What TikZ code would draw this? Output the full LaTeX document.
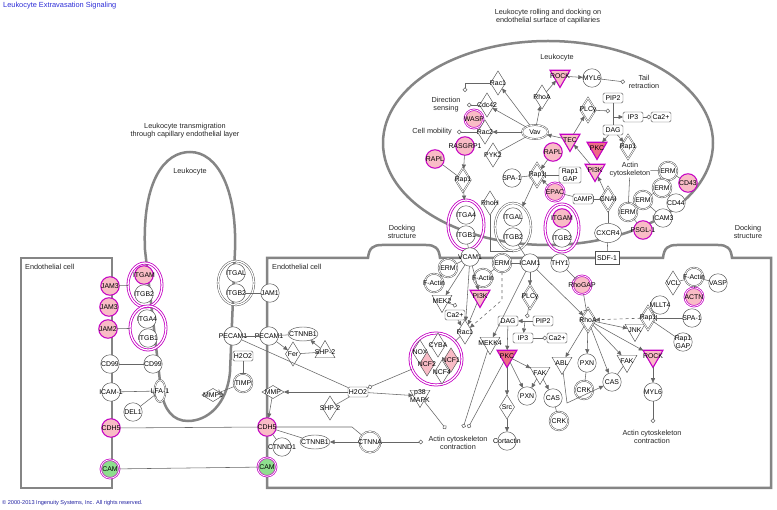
\documentclass[tikz,border=0pt]{standalone}
\usepackage{fontspec}
\setmainfont{Liberation Sans}
\usetikzlibrary{shapes.geometric,arrows.meta}
\definecolor{ndc}{HTML}{505050}
\definecolor{lnc}{HTML}{666666}
\definecolor{memc}{HTML}{858585}
\definecolor{mag}{HTML}{C400C4}
\definecolor{pinkf}{HTML}{F9BCC6}
\definecolor{pkdark}{HTML}{EE6A86}
\definecolor{greenf}{HTML}{8EDF8E}
\definecolor{ttl}{HTML}{2E2ED8}
\newcommand\nf{\fontsize{6.9}{7.8}\selectfont}
\newcommand\tf{\fontsize{7.3}{8.2}\selectfont}
\tikzset{
 every label/.style={font=\nf, inner sep=0pt, outer sep=0pt, text=black, align=center},
 base/.style={inner sep=0pt, outer sep=0pt, draw=ndc, line width=0.45pt, fill=white},
 gc/.style={base, circle, minimum size=18.5pt},
 dblc/.style={gc, double=white, double distance=0.8pt},
 gp/.style={gc, fill=pinkf, draw=mag, line width=1pt},
 gpd/.style={gc, fill=pinkf, draw=mag, line width=0.7pt, double=white, double distance=0.8pt},
 gg/.style={gc, fill=greenf, draw=mag, line width=0.7pt, double=white, double distance=0.8pt},
 kin/.style={base, regular polygon, regular polygon sides=3, shape border rotate=180, minimum size=23pt},
 kinp/.style={kin, fill=pinkf, draw=mag, line width=1.1pt},
 kind/.style={kin, fill=pkdark, draw=mag, line width=1.1pt},
 ukin/.style={base, regular polygon, regular polygon sides=3, minimum size=23pt},
 dia/.style={base, diamond, minimum width=15pt, minimum height=24pt},
 dbld/.style={dia, double=white, double distance=0.8pt},
 hdia/.style={base, diamond, minimum width=22pt, minimum height=13pt},
 bx/.style={base, rectangle, rounded corners=1.5pt, minimum width=20pt, minimum height=10pt},
 ell/.style={base, ellipse, minimum width=30pt, minimum height=14pt},
 grpm/.style={draw=mag, line width=0.8pt, double=white, double distance=1.3pt, inner sep=0pt, outer sep=0pt},
 grpg/.style={draw=ndc, line width=0.45pt, double=white, double distance=1.3pt, inner sep=0pt, outer sep=0pt},
 ln/.style={draw=lnc, line width=0.55pt},
 ar/.style={ln, -{Triangle[length=4.5pt,width=4pt]}},
 inh/.style={ln, -{Bar[width=6pt]}},
 ld/.style={ln, -{Circle[open,length=4.5pt,width=4.5pt]}},
 mem/.style={draw=memc, line width=2.5pt},
 txt/.style={font=\tf, inner sep=0pt, align=center, text=black!85},
}
\begin{document}
\begin{tikzpicture}[x=1pt,y=-1pt]
\useasboundingbox (0,0) rectangle (777,510);
\fill[white] (0,0) rectangle (777,510);
% ---------- membranes ----------
\draw[mem] (21,258) rectangle (112,488);
\draw[mem] (161,390) -- (145,250) .. controls (142,180) and (165,152) .. (190,152) .. controls (218,152) and (237,190) .. (235,250) -- (230,372) .. controls (227,405) and (207,421) .. (188,421) .. controls (173,421) and (164,410) .. (161,390) -- cycle;
\draw[mem] (267,258) -- (368,258) .. controls (369,248) and (373,245) .. (382,245) -- (426,245) .. controls (435,245) and (439,248) .. (440,258) -- (663,258) .. controls (664,248) and (668,245) .. (677,245) -- (718,245) .. controls (727,245) and (731,248) .. (732,258) -- (771,258) -- (771,488) -- (267,488) -- cycle;
\draw[mem] (548,143) ellipse [x radius=165pt, y radius=102pt];
% ---------- groups ----------
\node[grpm, ellipse, minimum width=34pt, minimum height=44pt] (gL1) at (145,285) {};
\node[grpm, ellipse, minimum width=36pt, minimum height=44pt] (gL2) at (148,328) {};
\node[grpg, ellipse, minimum width=36pt, minimum height=44pt] (gM) at (236,283) {};
\node[grpm, ellipse, minimum width=36pt, minimum height=50pt] (gT1) at (466,225) {};
\node[grpg, ellipse, minimum width=36pt, minimum height=48pt] (gT2) at (513,227) {};
\node[grpm, ellipse, minimum width=34pt, minimum height=48pt] (gT3) at (562,228) {};
\node[grpm, circle, minimum size=52pt] (noxc) at (436,359) {};
% ---------- left endothelial cell ----------
\node[gp, label=center:JAM3] (jam3a) at (110,286) {};
\node[gp, label=center:JAM3] (jam3b) at (109,307) {};
\node[gp, label=center:JAM2] (jam2) at (108,329) {};
\node[gc, label=center:CD99] (cd99a) at (110,364) {};
\node[gc, label=center:ICAM-1] (icama) at (111,392) {};
\node[gp, label=center:CDH5] (cdh5a) at (111,428) {};
\node[gg, label=center:CAM] (cama) at (110,469) {};
% ---------- left leukocyte ----------
\node[gp, label=center:ITGAM] (itgamL) at (144,275) {};
\node[gc, label=center:ITGB2] (itgb2L) at (144,294) {};
\node[gc, label=center:ITGA4] (itga4L) at (147,319) {};
\node[gc, label=center:ITGB1] (itgb1L) at (148,338) {};
\node[gc, label=center:CD99] (cd99b) at (153,364) {};
\node[base, ellipse, double=white, double distance=0.8pt, minimum width=11pt, minimum height=22pt, label=center:LFA-1] (lfa1) at (160,391) {};
\node[gc, label=center:DEL1] (del1) at (133,412) {};
\node[hdia, label=center:MMP9] (mmp9) at (213,395) {};
\node[dblc, label=center:TIMP] (timp) at (243,383) {};
\node[gc, label=center:ITGAL] (itgalM) at (236,273) {};
\node[gc, label=center:ITGB2] (itgb2M) at (236,293) {};
\node[gc, label=center:PECAM1] (pecL) at (233,336) {};
\node[bx, label=center:H2O2] (h2o2L) at (243,356) {};
% ---------- right endothelial cell ----------
\node[gc, label=center:JAM1] (jam1) at (270,293) {};
\node[gc, label=center:PECAM1] (pecR) at (269,336) {};
\node[ell, label=center:CTNNB1] (ctnnb1a) at (303,334) {};
\node[dia, label=center:Fer] (fer) at (293,354) {};
\node[ukin, label=center:SHP-2] (shp2a) at (325,352) {};
\node[gp, label=center:CDH5] (cdh5b) at (267,427) {};
\node[gg, label=center:CAM] (camb) at (267,467) {};
\node[hdia, label=center:MMP] (mmp) at (273,392) {};
\node[bx, label=center:H2O2] (h2o2M) at (358,392) {};
\node[dia, label=center:SHP-2] (shp2b) at (330,408) {};
\node[kin, label=center:{p38\\MAPK}] (p38) at (420,396) {};
\node[gc, label=center:CTNND1] (ctnnd1) at (282,447) {};
\node[ell, label=center:CTNNB1] (ctnnb1b) at (315,442) {};
\node[dblc, minimum size=21pt, label=center:CTNNA] (ctnna) at (370,442) {};
\node[dia, label=center:NOX] (nox) at (420,352) {};
\node[dia, label=center:CYBA] (cyba) at (438,345) {};
\node[dia, fill=pinkf, label=center:NCF1] (ncf1) at (451,360) {};
\node[dia, fill=pinkf, label=center:NCF2] (ncf2) at (427,364) {};
\node[dia, label=center:NCF4] (ncf4) at (442,372) {};
\node[gc, label=center:VCAM1] (vcam1) at (470,257) {};
\node[dblc, label=center:ERM] (erm1) at (448,268) {};
\node[dblc, label=center:F-Actin] (factin1) at (434,283) {};
\node[kin, label=center:MEK2] (mek2) at (442,301) {};
\node[bx, label=center:Ca2+] (ca1) at (455,315) {};
\node[dia, label=center:Rac1] (rac1R) at (465,332) {};
\node[dblc, label=center:ERM] (erm2) at (502,263) {};
\node[gc, label=center:ICAM1] (icam1R) at (530,263) {};
\node[dblc, label=center:F-Actin] (factin2) at (483,278) {};
\node[kinp, label=center:PI3K] (pi3kR) at (480,296) {};
\node[kin, label=center:MEKK4] (mekk4) at (490,343) {};
\node[dbld, label=center:PLCγ] (plcR) at (530,297) {};
\node[bx, label=center:DAG] (dagR) at (508,321) {};
\node[bx, label=center:PIP2] (pip2R) at (543,321) {};
\node[bx, label=center:IP3] (ip3R) at (523,338) {};
\node[bx, label=center:Ca2+] (caR) at (557,338) {};
\node[gc, label=center:THY1] (thy1) at (560,263) {};
\node[gpd, label=center:RhoGAP] (rhogap) at (582,285) {};
\node[base, rectangle, minimum width=24pt, minimum height=13pt, label=center:SDF-1] (sdf1) at (607,258) {};
\node[dbld, label=center:RhoA] (rhoa) at (588,320) {};
\node[kind, label=center:PKC] (pkcR) at (507,356) {};
\node[kin, label=center:FAK] (fakM) at (540,373) {};
\node[kin, label=center:ABL] (abl) at (562,363) {};
\node[gc, label=center:PXN] (pxnA) at (587,363) {};
\node[gc, label=center:PXN] (pxnB) at (527,396) {};
\node[gc, label=center:CAS] (cas1) at (553,398) {};
\node[dblc, label=center:CRK] (crk1) at (559,421) {};
\node[dia, label=center:Src] (src) at (507,407) {};
\node[gc, label=center:Cortactin] (cortactin) at (507,441) {};
\node[dblc, label=center:CRK] (crk2) at (584,390) {};
\node[gc, label=center:CAS] (cas2) at (612,382) {};
\node[kin, label=center:FAK] (fakR) at (627,361) {};
\node[kin, label=center:JNK] (jnk) at (635,330) {};
\node[kinp, label=center:ROCK] (rock2) at (653,356) {};
\node[gc, label=center:MYL6] (myl6b) at (653,392) {};
\node[dbld, label=center:Rap1] (rap1R) at (648,318) {};
\node[gc, label=center:MLLT4] (mllt4) at (660,305) {};
\node[gc, label=center:SPA-1] (spa1R) at (692,318) {};
\node[gc, label=center:{Rap1\\GAP}] (rap1gapR) at (683,342) {};
\node[dia, label=center:VCL] (vcl) at (673,283) {};
\node[dblc, label=center:F-Actin] (factin3) at (694,277) {};
\node[gc, label=center:VASP] (vasp) at (718,283) {};
\node[gpd, label=center:ACTN] (actn) at (694,297) {};
% ---------- top leukocyte ----------
\node[dia, label=center:Rac1] (rac1T) at (498,83) {};
\node[dia, label=center:Cdc42] (cdc42) at (487,105) {};
\node[gpd, label=center:WASP] (wasp) at (474,119) {};
\node[dia, label=center:Rac2] (rac2) at (485,132) {};
\node[gp, label=center:RASGRP1] (rasgrp1) at (465,146) {};
\node[gp, label=center:RAPL] (rapl1) at (435,159) {};
\node[dia, label=center:PYK2] (pyk2) at (493,155) {};
\node[dbld, label=center:Rap1] (rap1L) at (463,180) {};
\node[gc, label=center:ITGA4] (itga4T) at (466,215) {};
\node[gc, label=center:ITGB1] (itgb1T) at (466,235) {};
\node[dia, label=center:RhoH] (rhoh) at (490,203) {};
\node[gc, label=center:SPA-1] (spa1T) at (512,178) {};
\node[gc, label=center:ITGAL] (itgalT) at (513,217) {};
\node[gc, label=center:ITGB2] (itgb2T) at (513,237) {};
\node[kinp, label=center:ROCK] (rockT) at (560,76) {};
\node[gc, label=center:MYL6] (myl6T) at (592,78) {};
\node[dia, label=center:RhoA] (rhoaT) at (542,97) {};
\node[base, ellipse, double=white, double distance=0.8pt, minimum width=26pt, minimum height=14pt, label=center:Vav] (vav) at (535,132) {};
\node[dbld, label=center:PLCγ] (plcT) at (588,110) {};
\node[bx, label=center:PIP2] (pip2T) at (613,98) {};
\node[bx, label=center:IP3] (ip3T) at (633,117) {};
\node[bx, label=center:Ca2+] (caT) at (661,117) {};
\node[bx, label=center:DAG] (dagT) at (613,130) {};
\node[kind, label=center:PKC] (pkcT) at (597,148) {};
\node[dbld, label=center:Rap1] (rap1T2) at (628,147) {};
\node[kinp, label=center:TEC] (tec) at (570,140) {};
\node[gp, label=center:RAPL] (raplT) at (553,152) {};
\node[kinp, label=center:PI3K] (pi3kT) at (595,170) {};
\node[dbld, label=center:Rap1] (rap1M) at (537,175) {};
\node[bx, minimum width=22pt, minimum height=16pt, label=center:{Rap1\\GAP}] (rap1gapT) at (570,175) {};
\node[gpd, label=center:EPAC] (epac) at (555,192) {};
\node[bx, label=center:cAMP] (camp) at (583,199) {};
\node[dbld, label=center:GNAI] (gnai) at (608,199) {};
\node[gp, label=center:ITGAM] (itgamT) at (562,218) {};
\node[gc, label=center:ITGB2] (itgb2T2) at (562,238) {};
\node[base, ellipse, minimum width=27pt, minimum height=19pt, label=center:CXCR4] (cxcr4) at (608,233) {};
\node[dblc, label=center:ERM] (ermA) at (668,171) {};
\node[dblc, label=center:ERM] (ermB) at (662,188) {};
\node[dblc, label=center:ERM] (ermC) at (643,200) {};
\node[dblc, label=center:ERM] (ermD) at (628,212) {};
\node[gc, label=center:CD44] (cd44) at (676,203) {};
\node[gc, label=center:ICAM3] (icam3) at (663,218) {};
\node[gp, label=center:PSGL-1] (psgl1) at (643,230) {};
\node[gp, label=center:CD43] (cd43) at (688,183) {};
% ---------- texts ----------
\node[anchor=west, text=ttl, font=\fontsize{7.4}{8}\selectfont, inner sep=0pt] (title) at (3,6) {Leukocyte Extravasation Signaling};
\node[anchor=west, text=ttl!75!black, font=\fontsize{5.6}{6}\selectfont, inner sep=0pt] (copyr) at (2,503) {© 2000-2013 Ingenuity Systems, Inc. All rights reserved.};
\node[txt] (lbT) at (185,131) {Leukocyte transmigration\\through capillary endothelial layer};
\node[txt] (lbL) at (190,172) {Leukocyte};
\node[txt, anchor=west] (lbE1) at (25,267) {Endothelial cell};
\node[txt, anchor=west] (lbE2) at (272,267) {Endothelial cell};
\node[txt] (lbR) at (548,17) {Leukocyte rolling and docking on\\endothelial surface of capillaries};
\node[txt] (lbL2) at (557,58) {Leukocyte};
\node[txt] (dock1) at (402,232) {Docking\\structure};
\node[txt] (dock2) at (748,232) {Docking\\structure};
\node[txt] (dirs) at (446,105) {Direction\\sensing};
\node[txt, anchor=east] (cellm) at (452,132) {Cell mobility};
\node[txt] (tail) at (644,82) {Tail\\retraction};
\node[txt] (actl) at (630,170) {Actin\\cytoskeleton};
\node[txt] (acc1) at (458,443) {Actin cytoskeleton\\contraction};
\node[txt] (acc2) at (652,437) {Actin cytoskeleton\\contraction};
% ---------- free ends ----------
\coordinate (eRac1) at (465,92);
\coordinate (eCdc) at (467,105);
\coordinate (eRac2) at (457,132);
\coordinate (eMyl) at (625,82);
\coordinate (ePlc) at (610,111);
\coordinate (jIp) at (613,117);
\coordinate (ePlcR) at (527,318);
\coordinate (jIp2) at (525,321);
\coordinate (eMek) at (457,306);
\coordinate (eP38) at (446,429);
\coordinate (eMk) at (463,428);
\coordinate (ePk) at (468,428);
\coordinate (eCt) at (423,442);
\coordinate (eMy2) at (653,423);
\coordinate (bendA) at (352,427);
\coordinate (bendB) at (502,300);
\coordinate (bendC) at (567,403);
% ---------- connectors: left ----------
\draw[ln] (jam3a) -- (gL1);
\draw[ln] (jam2) -- (gL2);
\draw[ln] (cd99a) -- (cd99b);
\draw[ln] (icama) -- (lfa1);
\draw[inh] (del1) -- (lfa1);
\draw[inh] (timp) -- (mmp9);
\draw[inh] (h2o2L) -- (timp);
\draw[ln] (itgb2M) -- (jam1);
\draw[ln] (pecL) -- (pecR);
\draw[ln] (pecR) -- (ctnnb1a);
\draw[ar] (pecR) -- (fer);
\draw[ar] (shp2a) -- (ctnnb1a);
\draw[ln] (fer) -- (shp2a);
\draw[ln] (pecL) -- (h2o2M);
\draw[ln] (cdh5a) -- (cdh5b);
\draw[ln] (cama) -- (camb);
% ---------- connectors: right cell ----------
\draw[ld] (noxc) -- (h2o2M);
\draw[ar] (h2o2M) -- (mmp);
\draw[ar] (h2o2M) -- (p38);
\draw[inh] (h2o2M) -- (shp2b);
\draw[ar] (mmp) -- (cdh5b);
\draw[ln] (cdh5b) -- (ctnnd1);
\draw[ln] (cdh5b) -- (ctnnb1b);
\draw[ln] (cdh5b) -- (bendA) -- (ctnna);
\draw[ar] (ctnna) -- (ctnnb1b);
\draw[ld] (ctnna) -- (eCt);
\draw[ld] (p38) -- (eP38);
\draw[ld] (mekk4) -- (eMk);
\draw[ld] (pkcR) -- (ePk);
\draw[ln] (rac1R) -- (noxc);
\draw[ln] (itgb1T) -- (vcam1);
\draw[ln] (itgb2T) -- (icam1R);
\draw[ln] (vcam1) -- (erm1);
\draw[ln] (erm1) -- (factin1);
\draw[ar] (vcam1) -- (mek2);
\draw[ld] (mek2) -- (eMek);
\draw[ar] (vcam1) -- (rac1R);
\draw[ar] (vcam1) -- (pi3kR);
\draw[ar] (ca1) -- (rac1R);
\draw[ar] (pi3kR) -- (rac1R);
\draw[ln] (factin2) -- (erm2);
\draw[ln] (erm2) -- (icam1R);
\draw[ar, dashed] (erm2) -- (bendB) -- (rac1R);
\draw[ar] (icam1R) -- (plcR);
\draw[ar] (icam1R) -- (mekk4);
\draw[ar] (icam1R) -- (rhoa);
\draw[ld] (plcR) -- (ePlcR);
\draw[ar] (pip2R) -- (dagR);
\draw[ar] (jIp2) -- (ip3R);
\draw[ld] (ip3R) -- (caR);
\draw[ar] (dagR) -- (pkcR);
\draw[ar] (pkcR) -- (fakM);
\draw[ar] (pkcR) -- (pxnB);
\draw[ar] (pkcR) -- (src);
\draw[ar] (src) -- (cortactin);
\draw[ar] (fakM) -- (pxnB);
\draw[ar] (fakM) -- (cas1);
\draw[ln] (cas1) -- (crk1);
\draw[inh] (thy1) -- (rhogap);
\draw[inh] (rhogap) -- (rhoa);
\draw[ln] (cxcr4) -- (sdf1);
\draw[ar] (rhoa) -- (abl);
\draw[ar] (rhoa) -- (pxnA);
\draw[ar] (rhoa) -- (jnk);
\draw[ar] (rhoa) -- (fakR);
\draw[ar] (rhoa) -- (rock2);
\draw[ar] (rhoa) -- (cas2);
\draw[ar, dashed] (rap1R) -- (rhoa);
\draw[ln] (pxnA) -- (crk2);
\draw[ar] (abl) -- (bendC) -- (cas2);
\draw[ln] (fakR) -- (cas2);
\draw[ar] (rock2) -- (myl6b);
\draw[ld] (myl6b) -- (eMy2);
\draw[ln] (rap1R) -- (mllt4);
\draw[inh] (spa1R) -- (rap1R);
\draw[ln] (rap1R) -- (rap1gapR);
\draw[ln] (vcl) -- (factin3);
\draw[ln] (factin3) -- (vasp);
\draw[ln] (factin3) -- (actn);
% ---------- connectors: top leukocyte ----------
\draw[ld] (rac1T) -| (eRac1);
\draw[ld] (cdc42) -- (eCdc);
\draw[ld] (rac2) -- (eRac2);
\draw[ar] (vav) -- (rac1T);
\draw[ar] (vav) -- (cdc42);
\draw[ar] (vav) -- (rac2);
\draw[ar] (vav) -- (rhoaT);
\draw[ln] (pyk2) -- (vav);
\draw[ar] (rhoaT) -- (rockT);
\draw[ar] (rockT) -- (myl6T);
\draw[ld] (myl6T) -- (eMyl);
\draw[ar] (tec) -- (vav);
\draw[ar] (tec) -- (plcT);
\draw[ar] (pi3kT) -- (tec);
\draw[ld] (plcT) -- (ePlc);
\draw[ln] (pip2T) -- (dagT);
\draw[ar] (jIp) -- (ip3T);
\draw[ld] (ip3T) -- (caT);
\draw[ar] (dagT) -- (pkcT);
\draw[ar] (dagT) -- (rap1T2);
\draw[ar] (rasgrp1) -- (rap1L);
\draw[ln] (rapl1) -- (rap1L);
\draw[ar] (rap1L) -- (gT1);
\draw[ln] (rhoh) |- (gT2.south);
\draw[inh] (spa1T) -- (rap1M);
\draw[inh] (rap1gapT) -- (rap1M);
\draw[ar] (rap1M) -- (gT2);
\draw[ar] (raplT) -- (rap1M);
\draw[ar] (epac) -- (rap1M);
\draw[ln] (camp) -- (epac);
\draw[inh] (gnai) -- (camp);
\draw[ar] (gnai) -- (pi3kT);
\draw[ln] (cxcr4) -- (gnai);
\draw[ln] (actl) -- (ermD);
\draw[ln] (actl) -- (ermA);
\draw[ln] (ermA) -- (cd43);
\draw[ln] (ermB) -- (cd44);
\draw[ln] (ermC) -- (icam3);
\draw[ln] (ermD) -- (psgl1);
\draw[ln] (ermB) -- (ermC);
\end{tikzpicture}
\end{document}
